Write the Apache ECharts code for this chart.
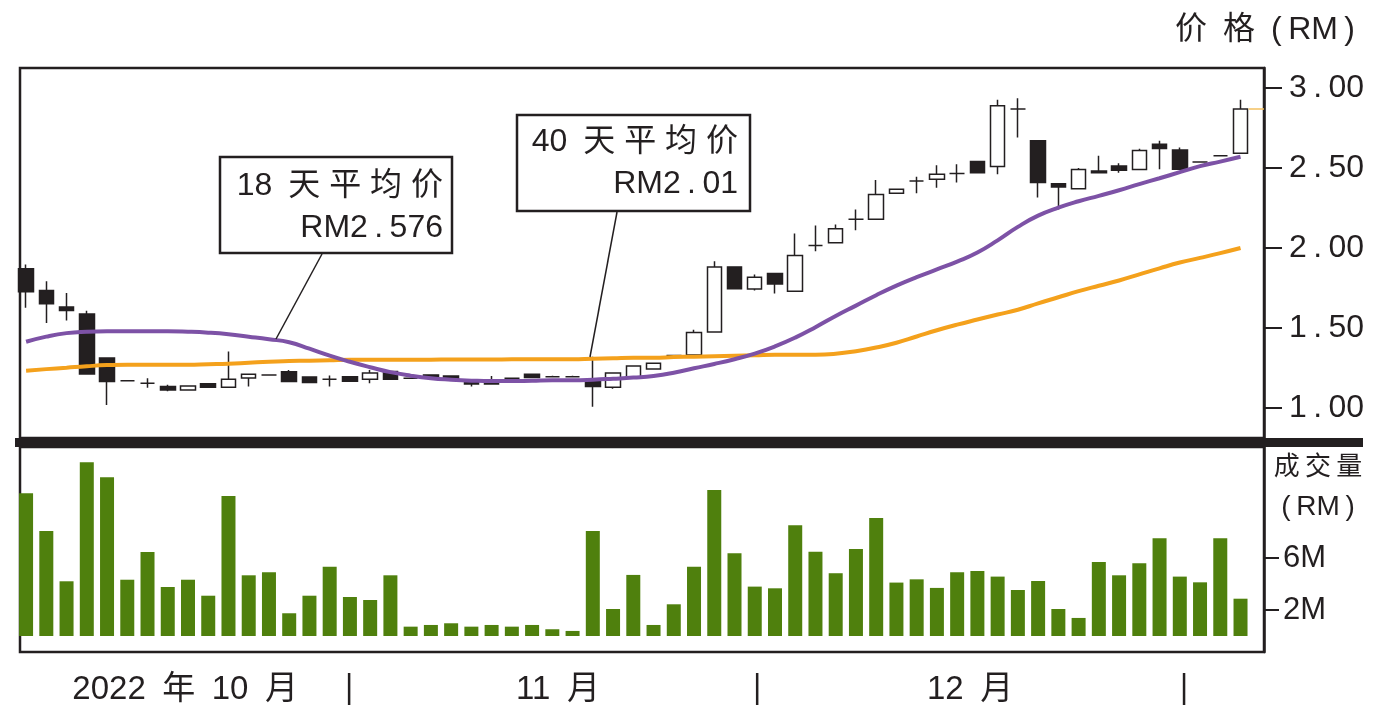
<!DOCTYPE html>
<html>
<head>
<meta charset="utf-8">
<script src="https://cdn.jsdelivr.net/npm/echarts@6/dist/echarts.min.js"></script>
<style>
html,body{margin:0;padding:0;background:#ffffff;}
#c{width:1390px;height:723px;}
</style>
</head>
<body>
<div id="c"></div>
<script>
// ---------- DATA ----------
// 61 trading days, index 0..60
const openPrice = [1.871,1.734,1.631,1.587,1.312,1.170,1.155,1.134,1.113,1.152,
  1.130,1.188,1.207,1.226,1.194,1.180,1.196,1.180,1.228,1.186,
  1.207,1.200,1.165,1.165,1.186,1.211,1.196,1.196,1.165,1.130,
  1.186,1.243,1.328,1.332,1.475,1.882,1.744,1.840,1.729,2.016,
  2.033,2.179,2.179,2.342,2.419,2.430,2.465,2.540,2.509,2.868,
  2.670,2.402,2.370,2.482,2.513,2.490,2.649,2.613,2.538,2.576,
  2.592];
const closePrice = [1.727,1.652,1.610,1.213,1.165,1.170,1.155,1.113,1.138,1.130,
  1.180,1.211,1.207,1.165,1.159,1.180,1.167,1.218,1.180,1.186,
  1.186,1.180,1.150,1.150,1.186,1.190,1.196,1.196,1.134,1.218,
  1.263,1.280,1.328,1.472,1.882,1.746,1.817,1.775,1.953,2.016,
  2.120,2.179,2.335,2.367,2.419,2.461,2.465,2.471,2.889,2.868,
  2.409,2.381,2.490,2.471,2.486,2.610,2.622,2.492,2.538,2.576,
  2.868];
const lowPrice = [1.627,1.531,1.547,1.213,1.019,1.170,1.127,1.104,1.113,1.130,
  1.130,1.134,1.207,1.165,1.159,1.134,1.167,1.155,1.180,1.186,
  1.186,1.180,1.134,1.150,1.186,1.190,1.190,1.190,1.008,1.120,
  1.186,1.243,1.328,1.332,1.475,1.746,1.734,1.715,1.729,1.980,
  2.033,2.111,2.179,2.342,2.342,2.377,2.409,2.471,2.461,2.691,
  2.315,2.241,2.370,2.471,2.470,2.490,2.492,2.492,2.538,2.576,
  2.592];
const highPrice = [1.897,1.792,1.719,1.608,1.312,1.170,1.186,1.146,1.138,1.152,
  1.353,1.211,1.207,1.238,1.194,1.203,1.196,1.238,1.228,1.186,
  1.207,1.200,1.165,1.200,1.186,1.211,1.202,1.202,1.320,1.218,
  1.263,1.280,1.328,1.489,1.917,1.882,1.834,1.840,2.091,2.141,
  2.147,2.241,2.425,2.367,2.446,2.517,2.524,2.540,2.927,2.936,
  2.670,2.402,2.500,2.576,2.530,2.620,2.670,2.628,2.538,2.576,
  2.927];
// volume in RM million
const volumeM = [10.98,8.08,4.21,13.36,12.21,4.33,6.46,3.77,4.33,3.10,
  10.77,4.67,4.90,1.75,3.10,5.33,3.00,2.77,4.67,0.72,
  0.85,0.98,0.72,0.85,0.72,0.85,0.52,0.39,8.08,2.08,
  4.70,0.85,2.44,5.33,11.23,6.36,3.80,3.67,8.52,6.49,
  4.83,6.70,9.08,4.11,4.36,3.70,4.90,5.00,4.57,3.54,
  4.23,2.08,1.39,5.70,4.67,5.59,7.52,4.57,4.13,7.52,
  2.87];
// 18-day moving average
const ma18 = [1.414,1.446,1.468,1.477,1.480,1.480,1.480,1.480,1.477,1.471,
  1.461,1.446,1.430,1.411,1.371,1.327,1.289,1.255,1.224,1.202,
  1.186,1.177,1.171,1.168,1.168,1.171,1.174,1.174,1.177,1.183,
  1.190,1.200,1.220,1.248,1.275,1.305,1.340,1.385,1.440,1.505,
  1.575,1.640,1.705,1.765,1.818,1.866,1.915,1.972,2.048,2.132,
  2.202,2.252,2.292,2.326,2.361,2.399,2.436,2.474,2.512,2.540,
  2.570];
// 40-day moving average
const ma40 = [1.233,1.243,1.252,1.261,1.268,1.271,1.271,1.271,1.271,1.274,
  1.277,1.283,1.289,1.293,1.296,1.299,1.302,1.302,1.302,1.302,
  1.302,1.303,1.303,1.303,1.304,1.304,1.304,1.305,1.308,1.311,
  1.314,1.314,1.318,1.321,1.324,1.327,1.330,1.333,1.333,1.333,
  1.339,1.355,1.378,1.408,1.447,1.486,1.521,1.553,1.584,1.614,
  1.654,1.692,1.730,1.764,1.797,1.835,1.873,1.909,1.938,1.968,
  2.000];
const priceTicks = [1.0, 1.5, 2.0, 2.5, 3.0];
const volumeTicks = [2, 6];
const monthLabels = ['2022\u2002年\u200210\u2002月', '11\u2002月', '12\u2002月'];
const monthLabelPos = [7.86, 26.28, 46.64];      // in trading-day index units
const monthSeparatorPos = [15.96, 36.12, 57.21]; // in trading-day index units
const ma18Label = ['18\u2002天 平 均 价', 'RM2\u2009.\u2009576'];
const ma40Label = ['40\u2002天 平 均 价', 'RM2\u2009.\u200901'];

// ---------- STYLE ----------
const FONT = "'Liberation Sans','Noto Sans CJK SC',sans-serif";
const INK = '#231f20';
const xMin = -0.3, xMax = 61.16;

const chart = echarts.init(document.getElementById('c'), null, {renderer: 'canvas'});

const candleData = openPrice.map((o, i) => [i, o, closePrice[i], lowPrice[i], highPrice[i]]);
const volData = volumeM.map((v, i) => [i, v]);
const ma18Data = ma18.map((v, i) => [i, v]);
const ma40Data = ma40.map((v, i) => [i, v]);
const lastIdx = closePrice.length - 1;
const lastClose = closePrice[lastIdx];

chart.setOption({
  animation: false,
  backgroundColor: '#ffffff',
  grid: [
    {left: 20, top: 68, width: 1244, height: 370, show: true, borderColor: INK, borderWidth: 2.5, backgroundColor: '#ffffff'},
    {left: 20, top: 447, width: 1244, height: 205, show: true, borderColor: INK, borderWidth: 2.5, backgroundColor: '#ffffff'}
  ],
  xAxis: [
    {type: 'value', gridIndex: 0, min: xMin, max: xMax, show: false, axisLine: {onZero: false}},
    {type: 'value', gridIndex: 1, min: xMin, max: xMax, show: false, axisLine: {onZero: false}}
  ],
  yAxis: [
    {
      type: 'value', gridIndex: 0, position: 'right', min: 0.8125, max: 3.125,
      splitLine: {show: false},
      axisLine: {show: true, onZero: false, lineStyle: {color: INK, width: 2.5}},
      axisTick: {show: true, customValues: priceTicks, length: 18, lineStyle: {color: INK, width: 2}},
      axisLabel: {
        customValues: priceTicks, color: INK, fontSize: 32, fontFamily: FONT, margin: 25,
        formatter: v => Number(v).toFixed(2).replace('.', '\u2009.\u2009')
      }
    },
    {
      type: 'value', gridIndex: 1, position: 'right', min: -1.23, max: 14.54,
      splitLine: {show: false},
      axisLine: {show: true, onZero: false, lineStyle: {color: INK, width: 2.5}},
      axisTick: {show: true, customValues: volumeTicks, length: 15, lineStyle: {color: INK, width: 2}},
      axisLabel: {
        customValues: volumeTicks, color: INK, fontSize: 31, fontFamily: FONT, margin: 19,
        formatter: v => v + 'M'
      }
    }
  ],
  series: [
    {
      type: 'candlestick', xAxisIndex: 0, yAxisIndex: 0, data: candleData,
      barWidth: 15, clip: false,
      itemStyle: {color: '#ffffff', color0: INK, borderColor: INK, borderColor0: INK, borderColorDoji: INK, borderWidth: 1.5},
      markLine: {
        silent: true, symbol: ['none', 'none'], animation: false,
        label: {show: false},
        lineStyle: {color: '#f3c060', width: 1.5, type: 'solid'},
        data: [[{coord: [lastIdx + 0.4, lastClose]}, {coord: [xMax, lastClose]}]]
      }
    },
    {
      type: 'line', xAxisIndex: 0, yAxisIndex: 0, data: ma40Data, showSymbol: false, smooth: true, clip: false,
      lineStyle: {color: '#f4a11c', width: 4}
    },
    {
      type: 'line', xAxisIndex: 0, yAxisIndex: 0, data: ma18Data, showSymbol: false, smooth: true, clip: false,
      lineStyle: {color: '#7d52a6', width: 4}
    },
    {
      type: 'bar', xAxisIndex: 1, yAxisIndex: 1, data: volData, barWidth: 14, clip: false,
      itemStyle: {color: '#4f800d'}
    }
  ]
});

// ---------- annotations ----------
const px = v => chart.convertToPixel({xAxisIndex: 1}, v);
const g = [];
// thick separator between panels
g.push({type: 'rect', z: 10, shape: {x: 15, y: 438, width: 1348, height: 9}, style: {fill: INK}});
// titles
g.push({type: 'text', z: 10, x: 1355, y: 30, style: {text: '价\u2002格\u2002(\u2009RM\u2009)', fontSize: 32, fontFamily: FONT, fill: INK, align: 'right', verticalAlign: 'middle'}});
g.push({type: 'text', z: 10, x: 1318, y: 468, style: {text: '成\u2009交\u2009量', fontSize: 26, fontFamily: FONT, fill: INK, align: 'center', verticalAlign: 'middle'}});
g.push({type: 'text', z: 10, x: 1318, y: 507, style: {text: '(\u2009RM\u2009)', fontSize: 28, fontFamily: FONT, fill: INK, align: 'center', verticalAlign: 'middle'}});
// callout 1 (18-day)
g.push({type: 'line', z: 10, shape: {x1: 322, y1: 254, x2: 276, y2: 339}, style: {stroke: INK, lineWidth: 1.5}});
g.push({type: 'rect', z: 10, shape: {x: 220, y: 157, width: 232, height: 96}, style: {fill: '#ffffff', stroke: INK, lineWidth: 2.5}});
g.push({type: 'text', z: 11, x: 443, y: 186, style: {text: ma18Label[0], fontSize: 32, fontFamily: FONT, fill: INK, align: 'right', verticalAlign: 'middle'}});
g.push({type: 'text', z: 11, x: 443, y: 228, style: {text: ma18Label[1], fontSize: 32, fontFamily: FONT, fill: INK, align: 'right', verticalAlign: 'middle'}});
// callout 2 (40-day)
g.push({type: 'line', z: 10, shape: {x1: 617, y1: 212, x2: 590, y2: 357}, style: {stroke: INK, lineWidth: 1.5}});
g.push({type: 'rect', z: 10, shape: {x: 517, y: 115, width: 233, height: 96}, style: {fill: '#ffffff', stroke: INK, lineWidth: 2.5}});
g.push({type: 'text', z: 11, x: 738, y: 142, style: {text: ma40Label[0], fontSize: 32, fontFamily: FONT, fill: INK, align: 'right', verticalAlign: 'middle'}});
g.push({type: 'text', z: 11, x: 738, y: 184, style: {text: ma40Label[1], fontSize: 32, fontFamily: FONT, fill: INK, align: 'right', verticalAlign: 'middle'}});
// month labels & separators
monthLabels.forEach((t, i) => {
  g.push({type: 'text', z: 10, x: px(monthLabelPos[i]), y: 690, style: {text: t, fontSize: 33, fontFamily: FONT, fill: INK, align: 'center', verticalAlign: 'middle'}});
});
monthSeparatorPos.forEach(v => {
  const x = px(v);
  g.push({type: 'line', z: 10, shape: {x1: x, y1: 673, x2: x, y2: 705}, style: {stroke: INK, lineWidth: 2.5}});
});
chart.setOption({graphic: g});
</script>
</body>
</html>
